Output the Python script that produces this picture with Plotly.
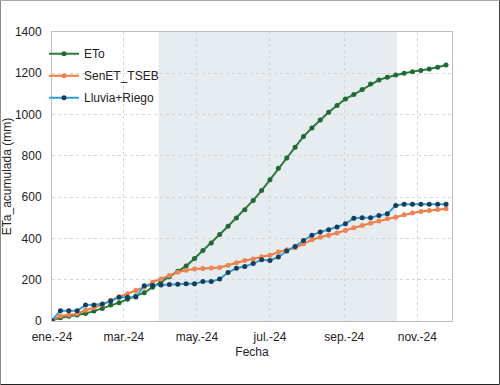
import pandas as pd
import plotly.graph_objects as go

fechas = pd.date_range("2024-01-01", periods=48, freq="7D")

eto = [3, 16, 23, 29, 36, 48, 61, 77, 89, 105, 121, 137, 164, 190, 214, 241, 266, 303,
       341, 378, 419, 459, 499, 539, 584, 632, 684, 740, 790, 842, 894, 935, 974, 1011,
       1044, 1076, 1097, 1121, 1148, 1168, 1181, 1192, 1200, 1208, 1213, 1221, 1229, 1240]

senet_tseb = [3, 24, 29, 35, 52, 64, 80, 101, 118, 132, 148, 164, 188, 204, 220, 236, 246,
              252, 254, 257, 259, 270, 282, 293, 300, 311, 318, 334, 345, 355, 374, 394, 406,
              415, 426, 439, 452, 463, 474, 484, 495, 503, 515, 523, 531, 535, 540, 544]

lluvia_riego = [3, 50, 50, 50, 77, 78, 82, 97, 115, 115, 116, 171, 172, 174, 177, 178, 180,
                181, 191, 191, 203, 235, 256, 264, 278, 297, 293, 310, 339, 361, 390, 415,
                431, 442, 455, 471, 498, 500, 500, 511, 519, 560, 565, 565, 565, 565, 565, 565]

tick_vals = ["2024-01-01", "2024-03-01", "2024-05-01", "2024-07-01", "2024-09-01", "2024-11-01"]
tick_text = ["ene.-24", "mar.-24", "may.-24", "jul.-24", "sep.-24", "nov.-24"]
y_ticks = [0, 200, 400, 600, 800, 1000, 1200, 1400]

periodo_ini = "2024-03-30"
periodo_fin = "2024-10-15"

fig = go.Figure()
fig.add_trace(go.Scatter(x=fechas, y=eto, name="ETo", mode="lines+markers",
                         line=dict(color="#2a7a3c", width=2),
                         marker=dict(color="#1f6a31", size=5), legendgroup="a"))
fig.add_trace(go.Scatter(x=fechas, y=senet_tseb, name="SenET_TSEB", mode="lines+markers",
                         line=dict(color="#ec7a40", width=2),
                         marker=dict(color="#ef8450", size=5), legendgroup="b"))
fig.add_trace(go.Scatter(x=fechas, y=lluvia_riego, name="Lluvia+Riego", mode="lines+markers",
                         line=dict(color="#2f9fd4", width=2),
                         marker=dict(color="#163e5c", size=5), legendgroup="c"))

fig.add_shape(type="rect", xref="x", yref="paper", x0=periodo_ini, x1=periodo_fin, y0=0, y1=1,
              fillcolor="#e6ecf0", line=dict(width=0), layer="below")

# outer frame
L, R, T, B = 52, 48, 32, 64
W, H = 500, 385
pw, ph = W - L - R, H - T - B
def px(x):
    return (x - L) / pw
def py(y):
    return (H - B - y) / ph
fig.add_shape(type="line", xref="paper", yref="paper", x0=px(0.5), x1=px(499.5), y0=py(0.5), y1=py(0.5),
              line=dict(color="#a8a8a8", width=1))
fig.add_shape(type="line", xref="paper", yref="paper", x0=px(0.5), x1=px(0.5), y0=py(0.5), y1=py(384.5),
              line=dict(color="#8a8a8a", width=1))
fig.add_shape(type="line", xref="paper", yref="paper", x0=px(499.5), x1=px(499.5), y0=py(0.5), y1=py(384.5),
              line=dict(color="#444444", width=1))
fig.add_shape(type="line", xref="paper", yref="paper", x0=px(0.5), x1=px(499.5), y0=py(384.5), y1=py(384.5),
              line=dict(color="#222222", width=1))

fig.update_layout(
    width=W, height=H,
    margin=dict(l=L, r=R, t=T, b=B, autoexpand=False),
    paper_bgcolor="white", plot_bgcolor="white",
    font=dict(family="Liberation Sans, Arial, sans-serif", size=12, color="#222222"),
    showlegend=True,
    legend=dict(x=-0.02, y=0.975, xanchor="left", yanchor="top", bgcolor="rgba(0,0,0,0)",
                font=dict(size=12, color="#222222"), traceorder="grouped", tracegroupgap=3),
    xaxis=dict(range=["2024-01-01", "2024-11-30"], tickvals=tick_vals, ticktext=tick_text,
               showgrid=True, gridcolor="#d6d6d6", griddash="3px,3px", gridwidth=1,
               showline=True, linecolor="#bdbdbd", mirror=True, ticks="",
               ticklabelstandoff=5, zeroline=False, automargin=False,
               title=dict(text="Fecha", standoff=4, font=dict(size=12))),
    yaxis=dict(range=[0, 1400], tickvals=y_ticks,
               showgrid=True, gridcolor="#d6d6d6", griddash="3px,3px", gridwidth=1,
               showline=True, linecolor="#bdbdbd", mirror=True, ticks="",
               ticklabelstandoff=7, zeroline=False, automargin=False,
               title=dict(text="ETa_acumulada (mm)", standoff=6, font=dict(size=12))),
)

fig.write_html("out.html", config={"displayModeBar": False},
               post_script="document.body.style.margin='0';document.body.style.padding='0';")
